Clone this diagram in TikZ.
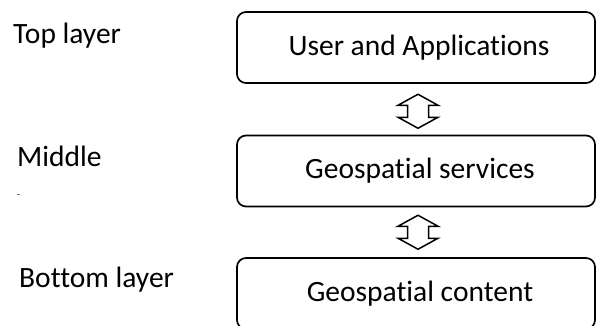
\documentclass[tikz,border=0pt]{standalone}
\usepackage{fontspec}
\setmainfont[Ligatures=NoCommon]{Carlito}
\usetikzlibrary{calc}

\tikzset{
  x=1pt, y=1pt,
  layerbox/.style={draw, line width=1.7pt, rounded corners=9pt,
    minimum width=358pt, minimum height=71pt, inner sep=0pt,
    font=\fontsize{29.5}{34}\selectfont},
  layerlabel/.style={anchor=base west, inner sep=0pt,
    font=\fontsize{29.5}{34}\selectfont},
  updown/.pic={
    \draw[line width=1.5pt, line join=miter]
      (0,17) -- (20,6) -- (10.5,6) -- (10.5,-6) -- (20,-6) -- (0,-17)
      -- (-20,-6) -- (-10.5,-6) -- (-10.5,6) -- (-20,6) -- cycle;
  }
}

\begin{document}
\begin{tikzpicture}
  \useasboundingbox (0,0) rectangle (596,-325);
  \clip (0,0) rectangle (596,-325);

  % layer boxes (right and bottom edges run to the page border)
  \node[layerbox] (apps)     at (416,-47.5) {\hspace*{6pt}User and Applications};
  \node[layerbox] (services) at (416,-171)  {\hspace*{8pt}Geospatial services};
  \node[layerbox] (content)  at (416,-293.5) {\hspace*{8pt}Geospatial content};

  % two-way links between neighbouring layers
  \pic at ($(apps.south)!0.5!(services.north)+(2,-2)$) {updown};
  \pic at ($(services.south)!0.5!(content.north)+(2,0)$) {updown};

  % layer names on the left
  \node[layerlabel] (toplbl) at (13,-43) {Top layer};
  \node[layerlabel] (midlbl) at (17,-166) {Middle};
  \node[layerlabel] (botlbl) at (19,-287) {Bottom layer};

  % small stray mark under the middle label
  \draw[gray, line width=1pt] (17,-194) -- (20,-194);
\end{tikzpicture}
\end{document}
